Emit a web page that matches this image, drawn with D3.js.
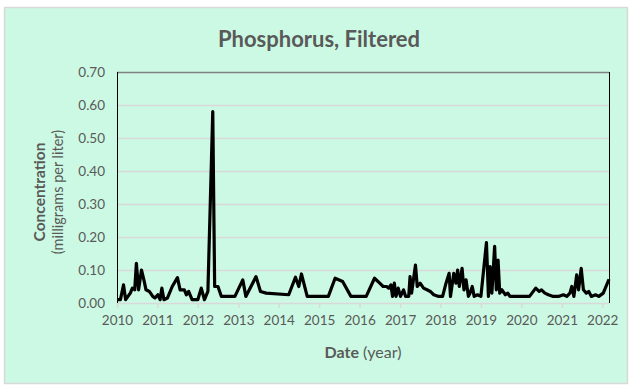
<!DOCTYPE html>
<html>
<head>
<meta charset="utf-8">
<script src="https://cdn.jsdelivr.net/npm/d3@7"></script>
<style>
  body { margin: 0; background: #fff; }
  text { font-family: Lato, "Open Sans", sans-serif; fill: #595959; }
</style>
</head>
<body>
<svg id="chart" width="635" height="390"></svg>
<script>
// sample dates and filtered phosphorus (mg/L)
var dates = [
  '2010-01-05', '2010-02-01', '2010-03-01', '2010-03-20', '2010-05-01', '2010-05-20', '2010-06-10', '2010-06-25',
  '2010-07-15', '2010-08-10', '2010-09-01', '2010-09-20', '2010-10-20', '2010-11-20', '2010-12-10',
  '2011-01-05', '2011-01-25', '2011-02-10', '2011-03-01', '2011-04-01', '2011-05-15', '2011-07-01', '2011-07-25',
  '2011-09-01', '2011-09-20', '2011-10-10', '2011-11-10',
  '2012-01-01', '2012-02-01', '2012-03-01', '2012-04-01', '2012-05-15', '2012-06-01', '2012-07-01', '2012-08-01', '2012-12-01',
  '2013-02-10', '2013-03-10', '2013-06-10', '2013-07-20', '2013-09-10',
  '2014-04-01', '2014-06-01', '2014-07-01', '2014-07-25', '2014-09-15',
  '2015-03-25', '2015-05-25', '2015-08-01', '2015-10-15',
  '2016-03-01', '2016-05-15', '2016-07-01', '2016-08-01', '2016-09-01', '2016-09-20', '2016-10-10', '2016-10-25',
  '2016-11-10', '2016-11-25', '2016-12-15',
  '2017-01-05', '2017-02-01', '2017-02-20', '2017-03-20', '2017-04-01', '2017-04-15', '2017-05-20', '2017-06-05',
  '2017-07-01', '2017-08-01', '2017-09-01', '2017-10-01', '2017-11-01', '2017-12-15',
  '2018-01-20', '2018-02-20', '2018-03-20', '2018-04-01', '2018-05-01', '2018-05-20', '2018-06-05', '2018-06-20',
  '2018-07-15', '2018-08-01', '2018-08-20', '2018-09-10', '2018-09-25', '2018-10-15', '2018-11-01', '2018-12-01',
  '2019-01-01', '2019-02-20', '2019-03-10', '2019-03-25', '2019-04-10', '2019-05-05', '2019-05-20', '2019-06-05',
  '2019-06-20', '2019-07-10', '2019-08-10', '2019-09-01', '2019-09-20',
  '2020-03-15', '2020-05-10', '2020-06-10', '2020-07-01', '2020-08-01', '2020-09-01', '2020-10-15', '2020-12-01',
  '2021-01-15', '2021-02-15', '2021-03-15', '2021-04-01', '2021-04-20', '2021-05-15', '2021-06-01', '2021-06-25',
  '2021-07-15', '2021-08-10', '2021-09-01', '2021-09-25', '2021-11-01', '2021-12-01',
  '2022-01-10', '2022-03-03'
]
var values = [
  0.01, 0.01, 0.055, 0.01, 0.03, 0.045, 0.04, 0.12,
  0.04, 0.10, 0.07, 0.04, 0.035, 0.02, 0.015,
  0.025, 0.01, 0.045, 0.01, 0.015, 0.05, 0.077, 0.04,
  0.04, 0.025, 0.035, 0.01,
  0.01, 0.045, 0.01, 0.035, 0.58, 0.05, 0.05, 0.02, 0.02,
  0.07, 0.02, 0.08, 0.035, 0.03,
  0.025, 0.078, 0.05, 0.088, 0.02,
  0.02, 0.075, 0.065, 0.02,
  0.02, 0.075, 0.06, 0.05, 0.05, 0.045, 0.055, 0.02,
  0.06, 0.02, 0.045,
  0.02, 0.04, 0.02, 0.02, 0.08, 0.03, 0.115, 0.05,
  0.06, 0.045, 0.04, 0.035, 0.025, 0.02,
  0.02, 0.06, 0.09, 0.02, 0.09, 0.06, 0.10, 0.05,
  0.105, 0.04, 0.07, 0.02, 0.03, 0.05, 0.02, 0.025,
  0.02, 0.183, 0.02, 0.11, 0.03, 0.172, 0.04, 0.13,
  0.03, 0.04, 0.025, 0.03, 0.02,
  0.02, 0.045, 0.035, 0.04, 0.03, 0.025, 0.02, 0.02,
  0.025, 0.02, 0.03, 0.05, 0.02, 0.085, 0.04, 0.105,
  0.04, 0.03, 0.035, 0.02, 0.025, 0.02,
  0.03, 0.072
]
var yTicks = [0, 0.1, 0.2, 0.3, 0.4, 0.5, 0.6, 0.7]
var xStart = '2010-01-01'
var xEnd = '2022-03-03'

var title = 'Phosphorus, Filtered'

var parse = d3.timeParse('%Y-%m-%d')
var data = dates.map((d, i) => ({date: parse(d), value: values[i]}))

var svg = d3.select('#chart')
var plot = {left: 117, right: 609, top: 72, bottom: 303}

// chart area
svg.append('rect')
    .attr('x', 4.5).attr('y', 7.5)
    .attr('width', 623).attr('height', 376)
    .attr('fill', '#ccf9e3')
    .attr('stroke', '#d9d9d9')
    .attr('stroke-width', 1.5)

var x = d3.scaleTime()
    .domain([parse(xStart), parse(xEnd)])
    .range([plot.left, plot.right])

var y = d3.scaleLinear()
    .domain([0, 0.7])
    .range([plot.bottom, plot.top])

// gridlines
svg.append('g')
    .selectAll('line')
    .data(yTicks.slice(1, -1))
    .enter().append('line')
    .attr('x1', plot.left).attr('x2', plot.right)
    .attr('y1', d => Math.round(y(d)) + 0.5).attr('y2', d => Math.round(y(d)) + 0.5)
    .attr('stroke', '#d9d9d9')
    .attr('stroke-width', 1.5)

// y labels
svg.append('g')
    .selectAll('text')
    .data(yTicks)
    .enter().append('text')
    .attr('x', 105)
    .attr('y', d => y(d))
    .attr('dy', '0.35em')
    .attr('text-anchor', 'end')
    .style('font-size', '13.5px')
    .text(d => d3.format('.2f')(d))

// x axis
var xAxis = d3.axisBottom(x)
    .ticks(d3.timeYear.every(1))
    .tickFormat(d3.timeFormat('%Y'))
    .tickSize(5)
    .tickPadding(7)

var gx = svg.append('g')
    .attr('transform', `translate(0,${plot.bottom})`)
    .call(xAxis)
gx.select('.domain').remove()
gx.selectAll('.tick line').attr('stroke', '#d9d9d9').attr('stroke-width', 1.5)
gx.selectAll('.tick text')
    .style('font-family', 'Lato, sans-serif')
    .style('font-size', '13.5px')
    .attr('fill', '#595959')

// plot frame
svg.append('line')
    .attr('x1', plot.left).attr('x2', plot.right)
    .attr('y1', plot.bottom + 0.5).attr('y2', plot.bottom + 0.5)
    .attr('stroke', '#d9d9d9').attr('stroke-width', 1.5)
svg.append('line')
    .attr('x1', plot.left).attr('x2', plot.right)
    .attr('y1', plot.top + 0.5).attr('y2', plot.top + 0.5)
    .attr('stroke', '#808080').attr('stroke-width', 1.5)
svg.append('line')
    .attr('x1', plot.left + 0.5).attr('x2', plot.left + 0.5)
    .attr('y1', plot.top).attr('y2', plot.bottom)
    .attr('stroke', '#000').attr('stroke-width', 1)
svg.append('line')
    .attr('x1', plot.right + 0.5).attr('x2', plot.right + 0.5)
    .attr('y1', plot.top).attr('y2', plot.bottom)
    .attr('stroke', '#000').attr('stroke-width', 1)

// series line
var line = d3.line()
    .x(d => x(d.date))
    .y(d => y(d.value))

svg.append('path')
    .datum(data)
    .attr('d', line)
    .attr('fill', 'none')
    .attr('stroke', '#000')
    .attr('stroke-width', 3.2)
    .attr('stroke-linejoin', 'round')

// titles
svg.append('text')
    .attr('x', 319).attr('y', 47)
    .attr('text-anchor', 'middle')
    .style('font-size', '22px')
    .style('font-weight', 'bold')
    .text(title)

var xt = svg.append('text')
    .attr('x', 363).attr('y', 358)
    .attr('text-anchor', 'middle')
    .style('font-size', '16px')
xt.append('tspan').style('font-weight', 'bold').text('Date')
xt.append('tspan').text(' (year)')

var yt = svg.append('g')
    .attr('transform', 'translate(0,192) rotate(-90)')
yt.append('text')
    .attr('x', 0).attr('y', 45)
    .attr('text-anchor', 'middle')
    .style('font-size', '15.5px')
    .style('font-weight', 'bold')
    .text('Concentration')
yt.append('text')
    .attr('x', 0).attr('y', 63)
    .attr('text-anchor', 'middle')
    .style('font-size', '14.5px')
    .text('(milligrams per liter)')
</script>
</body>
</html>
